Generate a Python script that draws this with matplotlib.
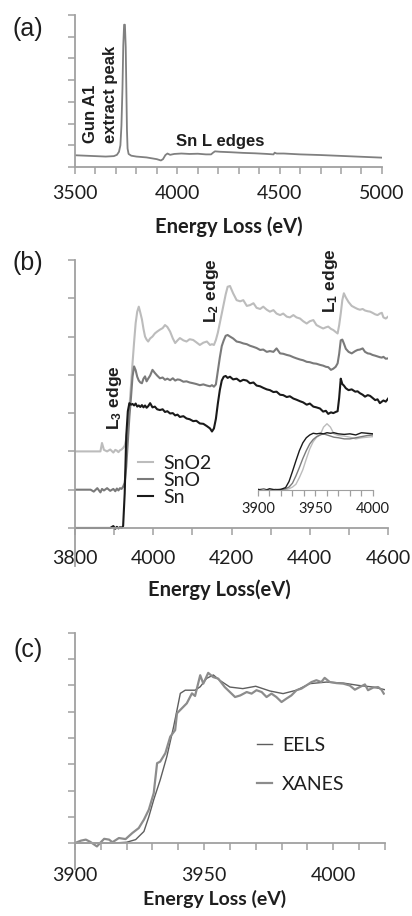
import matplotlib
matplotlib.use('Agg')
import matplotlib.pyplot as plt
from matplotlib.ticker import MultipleLocator

plt.rcParams['font.family'] = ['Lato', 'DejaVu Sans']
plt.rcParams['mathtext.fontset'] = 'custom'
plt.rcParams['mathtext.rm'] = 'Liberation Sans'
plt.rcParams['mathtext.bf'] = 'Liberation Sans:bold'

# ---- data (a): overview spectrum ----
a_ev = [3500, 3550, 3600, 3650, 3690, 3705, 3715, 3722, 3727, 3732,
        3736, 3740, 3744, 3748, 3751, 3754, 3757, 3762, 3775, 3800,
        3850, 3900, 3920, 3930, 3942, 3952, 3965, 3985, 4020, 4060,
        4100, 4140, 4165, 4175, 4184, 4210, 4260, 4320, 4380, 4440,
        4470, 4476, 4480, 4486, 4520, 4600, 4700, 4800, 4900, 5000]
a_int = [0.54, 0.52, 0.50, 0.48, 0.50, 0.56, 0.70, 1.0, 1.9, 3.6,
         5.6, 6.55, 6.55, 5.5, 3.6, 1.7, 0.85, 0.6, 0.52, 0.48,
         0.44, 0.36, 0.30, 0.36, 0.55, 0.62, 0.56, 0.60, 0.62, 0.60,
         0.61, 0.58, 0.58, 0.66, 0.72, 0.70, 0.68, 0.65, 0.63, 0.60,
         0.58, 0.66, 0.64, 0.62, 0.62, 0.58, 0.55, 0.51, 0.47, 0.43]

# ---- data (b): Sn L edges ----
b_ev = [3800, 3820, 3840, 3848, 3857, 3865, 3869, 3874, 3882, 3890,
        3898, 3903, 3907, 3911, 3915, 3919, 3923, 3927, 3931, 3935,
        3939, 3943, 3947, 3951, 3955, 3959, 3963, 3967, 3971, 3975,
        3979, 3983, 3987, 3992, 3998, 4004, 4010, 4017, 4024, 4030,
        4036, 4043, 4050, 4056, 4062, 4068, 4077, 4085, 4093, 4102,
        4110, 4119, 4128, 4137, 4145, 4150, 4155, 4160, 4165, 4170,
        4175, 4180, 4185, 4190, 4196, 4204, 4213, 4222, 4230, 4239,
        4247, 4256, 4264, 4273, 4281, 4290, 4298, 4307, 4315, 4324,
        4332, 4341, 4349, 4358, 4366, 4375, 4383, 4392, 4400, 4409,
        4417, 4426, 4434, 4441, 4447, 4454, 4460, 4466, 4471, 4475,
        4479, 4483, 4487, 4492, 4499, 4507, 4516, 4522, 4528, 4535,
        4541, 4548, 4554, 4560, 4567, 4573, 4579, 4584, 4588, 4594,
        4600]
sn = [0, 0, 0, 0, 0, 0, 0, 0, 0, 0,
      0.05, -0.02, 0.03, -0.01, 0.02, 0.0, 0.05, 0.9, 2.4, 3.05,
      3.26, 3.22, 3.24, 3.2, 3.25, 3.17, 3.2, 3.16, 3.21, 3.15,
      3.2, 3.14, 3.18, 3.26, 3.15, 3.17, 3.1, 3.08, 3.1, 3.03,
      3.05, 2.99, 3.0, 2.94, 2.96, 2.9, 2.92, 2.86, 2.84, 2.79,
      2.8, 2.73, 2.72, 2.66, 2.6, 2.52, 2.6, 2.85, 3.25, 3.6,
      3.85, 3.95, 3.97, 3.92, 3.95, 3.88, 3.9, 3.83, 3.87, 3.85,
      3.78, 3.8, 3.72, 3.7, 3.66, 3.62, 3.6, 3.55, 3.56, 3.48,
      3.47, 3.42, 3.44, 3.38, 3.35, 3.31, 3.28, 3.22, 3.25, 3.17,
      3.15, 3.12, 3.04, 3.06, 2.98, 3.02, 3.0, 3.03, 3.05, 3.4,
      3.9, 3.76, 3.72, 3.65, 3.6, 3.62, 3.56, 3.57, 3.52, 3.48,
      3.43, 3.47, 3.45, 3.4, 3.34, 3.36, 3.26, 3.3, 3.33, 3.3,
      3.38]
sno = [1.0, 1.0, 1.0, 0.95, 1.04, 0.93, 1.02, 0.98, 1.04, 0.97,
       1.02, 0.96, 1.03, 0.98, 1.04, 1.02, 1.08, 1.18, 1.6, 2.25,
       2.9, 3.4, 3.95, 4.22, 4.12, 3.95, 3.85, 3.8, 3.78, 3.9,
       3.96, 3.83, 3.9, 3.98, 4.13, 4.05, 3.98, 3.91, 3.93, 3.87,
       3.9, 3.86, 3.91, 3.85, 3.88, 3.87, 3.82, 3.83, 3.8, 3.78,
       3.76, 3.73, 3.75, 3.72, 3.7, 3.73, 3.69, 3.75, 4.1, 4.45,
       4.75, 4.9, 5.02, 5.04, 5.0, 4.95, 4.87, 4.85, 4.82, 4.8,
       4.76, 4.73, 4.7, 4.65, 4.66, 4.6, 4.62, 4.6, 4.69, 4.56,
       4.55, 4.52, 4.5, 4.46, 4.43, 4.4, 4.38, 4.34, 4.33, 4.3,
       4.29, 4.26, 4.24, 4.21, 4.2, 4.13, 4.16, 4.21, 4.3, 4.55,
       4.9, 4.92, 4.82, 4.68, 4.6, 4.56, 4.62, 4.65, 4.66, 4.69,
       4.6, 4.56, 4.55, 4.52, 4.5, 4.48, 4.46, 4.45, 4.47, 4.42,
       4.43]
sno2 = [2.0, 2.0, 2.0, 2.0, 2.0, 2.0, 2.22, 2.04, 2.0, 2.05,
        1.97, 2.04, 2.02, 1.98, 2.03, 2.05, 2.09, 2.15, 2.33, 2.7,
        3.15, 3.7, 4.3, 4.85, 5.35, 5.65, 5.78, 5.62, 5.45, 5.2,
        5.0, 4.92, 4.87, 4.95, 5.0, 5.08, 5.13, 5.18, 5.22, 5.3,
        5.25, 5.13, 4.95, 4.83, 4.9, 4.96, 4.9, 4.87, 4.93, 4.91,
        4.85, 4.78, 4.84, 4.87, 4.78, 4.8, 4.78, 4.91, 5.1, 5.35,
        5.6, 5.85, 6.1, 6.3, 6.32, 6.13, 5.95, 5.92, 5.95, 5.8,
        5.82, 5.87, 5.75, 5.72, 5.78, 5.7, 5.65, 5.69, 5.6, 5.56,
        5.6, 5.52, 5.5, 5.56, 5.5, 5.47, 5.4, 5.34, 5.4, 5.43,
        5.3, 5.25, 5.21, 5.24, 5.26, 5.2, 5.17, 5.12, 5.08, 5.3,
        5.6, 5.95, 6.13, 6.02, 5.9, 5.8, 5.75, 5.72, 5.7, 5.72,
        5.68, 5.66, 5.65, 5.62, 5.58, 5.56, 5.6, 5.62, 5.5, 5.47,
        5.52]

# inset of (b): normalised L3 edges
in_ev = [3900, 3905, 3910, 3915, 3920, 3924, 3927, 3930, 3933, 3936,
         3939, 3942, 3945, 3948, 3951, 3954, 3957, 3960, 3963, 3966,
         3970, 3975, 3980, 3985, 3990, 3995, 4000]
in_sn = [0.01, -0.02, 0.02, 0.0, 0.01, 0.04, 0.15, 0.33, 0.52, 0.7,
         0.84, 0.93, 0.98, 1.01, 1.0, 1.01, 1.0, 1.02, 1.01, 1.02,
         1.0, 0.99, 1.0, 0.98, 1.02, 1.01, 1.0]
in_sno = [0.0, 0.02, -0.02, 0.01, 0.0, 0.02, 0.05, 0.12, 0.25, 0.4,
          0.56, 0.7, 0.82, 0.9, 0.95, 0.98, 1.0, 0.98, 0.96, 0.94,
          0.93, 0.91, 0.91, 0.93, 0.95, 0.97, 0.98]
in_sno2 = [-0.01, 0.01, 0.0, -0.02, 0.01, 0.0, 0.02, 0.05, 0.1, 0.22,
           0.36, 0.55, 0.73, 0.86, 0.94, 0.98, 1.12, 1.18, 1.12, 1.0,
           0.97, 0.96, 0.94, 0.91, 0.93, 0.94, 0.95]

# ---- data (c): EELS vs XANES ----
eels_ev = [3900, 3910, 3915, 3920, 3923.5, 3926.7, 3928.6, 3930.5, 3933, 3935.6,
           3938.2, 3939.5, 3940.8, 3942.7, 3946.5, 3948.5, 3951, 3953.6, 3956, 3960,
           3965, 3970, 3975.5, 3980.6, 3985.8, 3991, 3997.4, 4004, 4010, 4015.5,
           4020]
eels = [0, 0, 0, 0.03, 0.13, 0.44, 1.0, 1.65, 2.4, 3.3,
        4.43, 5.06, 5.7, 5.82, 5.82, 5.95, 6.27, 6.4, 6.2, 5.94,
        5.88, 5.97, 5.79, 5.69, 5.82, 6.07, 6.13, 6.09, 6.0, 5.94,
        5.84]
xanes_ev = [3900, 3902.3, 3904.2, 3906, 3908.5, 3910, 3911.3, 3913.2, 3914.5, 3917,
            3919.6, 3922.2, 3924.7, 3926.7, 3928.6, 3930.5, 3931.8, 3933, 3935, 3936.9,
            3938.8, 3939.5, 3941.4, 3943.3, 3945.3, 3946.5, 3948.5, 3949.7, 3951.6, 3953.5,
            3955.5, 3958, 3960, 3962, 3964, 3966.5, 3968.4, 3970.3, 3972.3, 3974.2,
            3976.1, 3978, 3980, 3981.9, 3983.8, 3985.8, 3987.7, 3989.6, 3991.6, 3993.5,
            3995.4, 3996.7, 3998.7, 4001.3, 4003.9, 4006.4, 4008.4, 4010.3, 4012.3, 4013.5,
            4015.5, 4017.4, 4018.7, 4019.6]
xanes = [0, 0.09, 0.13, 0.04, -0.13, 0.03, 0.16, 0.13, 0.03, 0.19,
         0.15, 0.38, 0.57, 0.89, 1.27, 1.9, 3.04, 3.1, 3.42, 4.05,
         4.3, 4.94, 5.13, 5.32, 5.7, 5.6, 6.39, 6.07, 6.48, 6.32,
         6.26, 5.94, 5.75, 5.56, 5.62, 5.75, 5.69, 5.82, 5.75, 5.56,
         5.69, 5.56, 5.37, 5.5, 5.62, 5.82, 5.88, 6.0, 6.13, 6.2,
         6.13, 6.29, 6.13, 6.09, 6.07, 6.0, 5.84, 5.94, 6.04, 5.82,
         5.92, 5.94, 5.84, 5.69]

AX = '#a0a0a0'
TXT = '#1e1e1e'


def style(ax, pad):
    for s in ['top', 'right']:
        ax.spines[s].set_visible(False)
    for s in ['left', 'bottom']:
        ax.spines[s].set_color(AX)
        ax.spines[s].set_linewidth(1.3)
    ax.tick_params(which='both', direction='out', length=5, width=1.1, color=AX,
                   labelcolor=TXT, labelsize=14, pad=pad)
    ax.yaxis.set_major_formatter(plt.NullFormatter())


fig = plt.figure(figsize=(4.12, 9.16), dpi=100)

# (a)
ax1 = fig.add_axes([0.182, 0.8177, 0.745, 0.166])
ax1.plot(a_ev, a_int, color='#808080', lw=1.3)
ax1.set_xlim(3500, 5000)
ax1.set_ylim(0, 7)
ax1.set_yticks(range(0, 8))
ax1.xaxis.set_major_locator(MultipleLocator(500))
ax1.xaxis.set_minor_locator(MultipleLocator(100))
style(ax1, 8)
ax1.set_xlabel('Energy Loss (eV)', fontsize=14.5, fontweight='bold', color=TXT)
ax1.xaxis.set_label_coords(0.5, -0.39)
ax1.xaxis.label.set_va('center')
kw = dict(rotation=90, ha='center', va='bottom', fontsize=12, fontweight='bold',
          family='Liberation Sans', color=TXT)
ax1.text(3578, 1.09, 'Gun A1', **kw)
ax1.text(3676, 1.09, 'extract peak', **kw)
ax1.text(4208, 1.18, 'Sn L edges', ha='center', va='center', fontsize=12,
         fontweight='bold', family='Liberation Sans', color=TXT)

# (b)
ax2 = fig.add_axes([0.182, 0.3818, 0.760, 0.3344])
ax2.plot(b_ev, sno2, color='#bcbcbc', lw=1.5, label='SnO2')
ax2.plot(b_ev, sno, color='#7a7a7a', lw=1.5, label='SnO')
ax2.plot(b_ev, sn, color='#1a1a1a', lw=1.5, label='Sn')
ax2.set_xlim(3800, 4600)
ax2.set_ylim(-1, 7)
ax2.set_yticks(range(0, 8))
ax2.spines['bottom'].set_position(('data', 0))
ax2.xaxis.set_major_locator(MultipleLocator(200))
ax2.xaxis.set_minor_locator(MultipleLocator(100))
style(ax2, 11)
ax2.set_xlabel('Energy Loss(eV)', fontsize=14.5, fontweight='bold', color=TXT)
ax2.xaxis.set_label_coords(0.46, -0.076)
ax2.xaxis.label.set_va('center')
kw = dict(rotation=90, ha='center', va='bottom', fontsize=12.5, fontweight='bold',
          family='Liberation Sans', color=TXT)
ax2.text(3900, 2.56, r'$\mathbf{L_3}$ edge', **kw)
ax2.text(4148, 5.35, r'$\mathbf{L_2}$ edge', **kw)
ax2.text(4454, 5.61, r'$\mathbf{L_1}$ edge', **kw)
ax2.legend(loc='upper left', bbox_to_anchor=(0.17, 0.395), frameon=False,
           fontsize=14, handlelength=0.8, handletextpad=0.5, labelspacing=0.0,
           borderpad=0, labelcolor=TXT)

# inset
ax3 = fig.add_axes([0.6262, 0.464, 0.2791, 0.0795])
ax3.plot(in_ev, in_sno2, color='#bcbcbc', lw=1.0)
ax3.plot(in_ev, in_sno, color='#7a7a7a', lw=1.0)
ax3.plot(in_ev, in_sn, color='#1a1a1a', lw=1.0)
ax3.set_xlim(3900, 4000)
ax3.set_ylim(-0.02, 1.28)
ax3.patch.set_alpha(0)
for s in ['top', 'right', 'left']:
    ax3.spines[s].set_visible(False)
ax3.spines['bottom'].set_color(AX)
ax3.spines['bottom'].set_position(('data', 0))
ax3.set_yticks([])
ax3.xaxis.set_major_locator(MultipleLocator(50))
ax3.xaxis.set_minor_locator(MultipleLocator(10))
ax3.tick_params(which='both', length=4, width=0.9, color=AX, labelcolor=TXT,
                labelsize=10.5, pad=5)

# (c)
ax4 = fig.add_axes([0.182, 0.051, 0.752, 0.258])
ax4.plot(eels_ev, eels, color='#5e5e5e', lw=1.0, label='EELS')
ax4.plot(xanes_ev, xanes, color='#8c8c8c', lw=1.6, label='XANES')
ax4.set_xlim(3900, 4020)
ax4.set_ylim(-1, 8)
ax4.set_yticks(range(0, 9))
ax4.spines['bottom'].set_position(('data', 0))
ax4.xaxis.set_major_locator(MultipleLocator(50))
ax4.xaxis.set_minor_locator(MultipleLocator(10))
style(ax4, 12)
ax4.set_xlabel('Energy Loss (eV)', fontsize=14, fontweight='bold', color=TXT)
ax4.xaxis.set_label_coords(0.45, -0.125)
ax4.xaxis.label.set_va('center')
ax4.legend(loc='upper left', bbox_to_anchor=(0.555, 0.6), frameon=False,
           fontsize=14, handlelength=0.8, handletextpad=0.5, labelspacing=1.1,
           borderpad=0, labelcolor=TXT)

for lab, y in [('(a)', 0.968), ('(b)', 0.713), ('(c)', 0.290)]:
    fig.text(0.068, y, lab, ha='center', va='center', fontsize=18,
             family='Liberation Sans', color=TXT)

fig.savefig('out.png', dpi=100)
